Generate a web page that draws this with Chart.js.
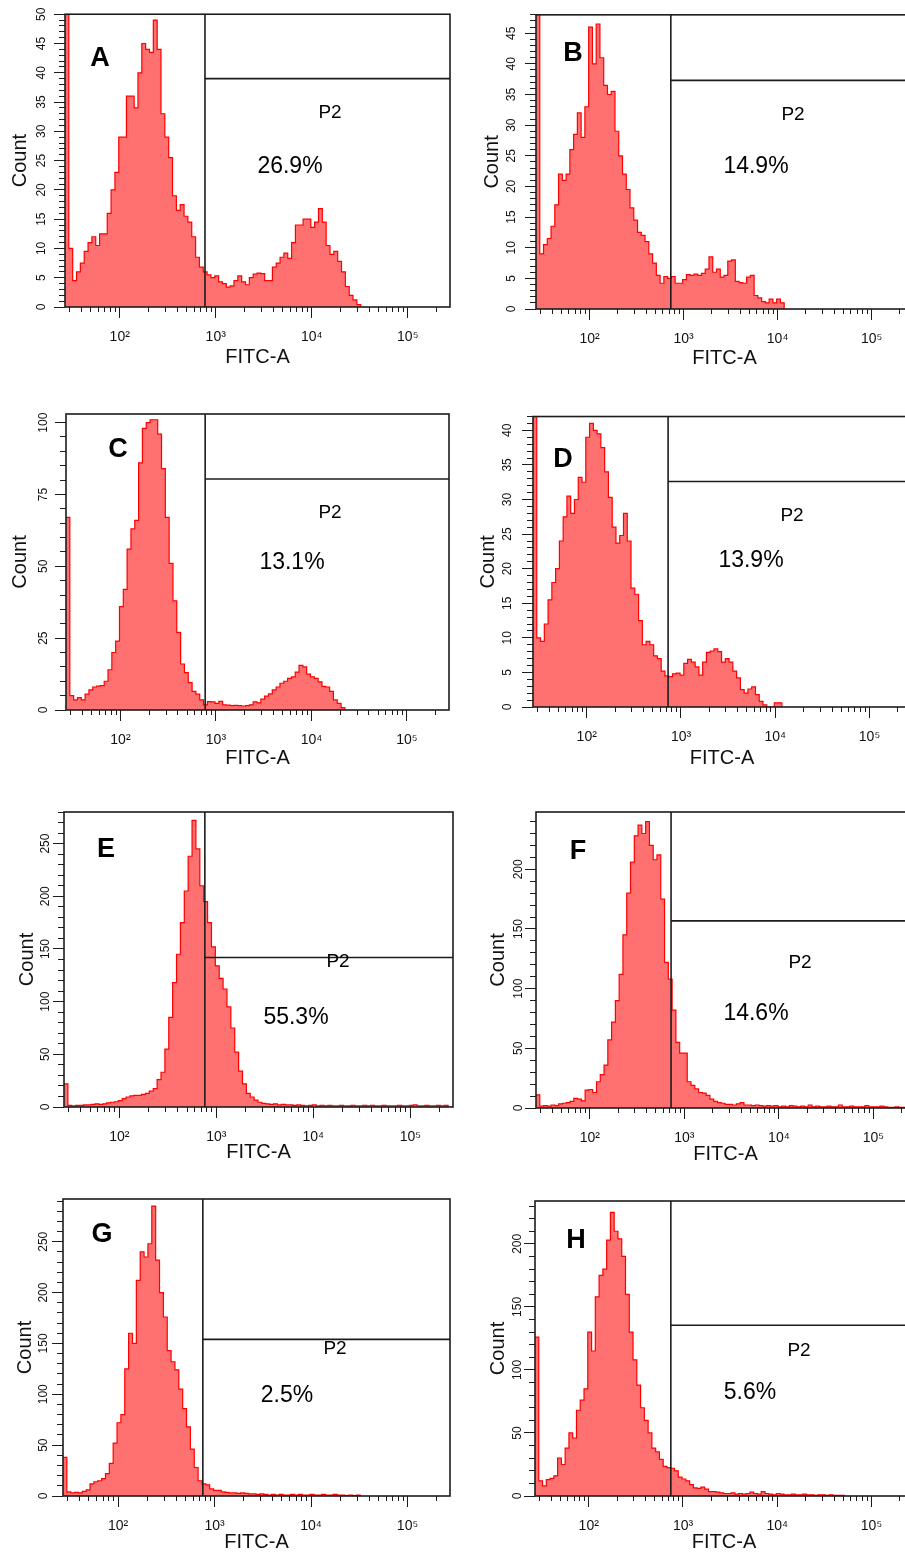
<!DOCTYPE html>
<html lang="en">
<head>
<meta charset="UTF-8" />
<title>FITC-A histograms A-H</title>
<script src="https://cdn.jsdelivr.net/npm/chart.js@4.4.1/dist/chart.umd.min.js"></script>
<style>
  html, body { margin: 0; padding: 0; background: #fff; width: 905px; height: 1552px; overflow: hidden; position: relative; }
  canvas { position: absolute; }
</style>
</head>
<body>
<script>
// ---- data ----
const panelLetters = ["A", "B", "C", "D", "E", "F", "G", "H"];
const p2Percent = ["26.9%", "14.9%", "13.1%", "13.9%", "55.3%", "14.6%", "2.5%", "5.6%"];

// gate P2: vertical edge (log10 FITC-A) and horizontal edge (count)
const gateX = [2.888, 2.864, 2.887, 2.863, 2.882, 2.859, 2.879, 2.871];
const gateY = [39, 37.3, 80.4, 32.6, 141.9, 156.8, 154, 135.4];

// y axis top and tick steps
const yMax = [50, 48, 103, 42, 280, 248, 292, 234];
const yMajor = [5, 5, 25, 5, 50, 50, 50, 50];
const yMinor = [1, 1, 5, 1, 10, 10, 10, 10];

// x axis, log10 of FITC-A
const X_MIN = 1.43, X_MAX = 5.44;
const xDecades = [2, 3, 4, 5];
const xDecadeLabels = ["10²", "10³", "10⁴", "10⁵"];

// histogram channels start at X_MIN, each 0.04 log units wide
const BIN_START = 1.43, BIN_WIDTH = 0.04;

const countsA = [60, 10, 4.5, 6, 7.5, 9.5, 11, 12, 10.5, 12.5,
  12.5, 16, 20, 23, 29, 29, 36, 36, 34, 40,
  45, 44, 43.5, 49, 44, 33, 29, 25.5, 19, 16.5,
  17.5, 15.5, 14.5, 12, 8.5, 6.8, 6, 5.5, 5, 5.3,
  4.3, 4, 3.4, 3.6, 4.5, 5.3, 4.3, 3.8, 5, 5.6,
  5.8, 5.7, 4.5, 4.5, 6.8, 7.5, 8.5, 9.2, 8.3, 11,
  14, 14, 15, 15, 13.6, 14.5, 16.8, 14.5, 10.5, 9,
  9.5, 7.8, 6, 3.5, 2, 1.2, 0.4, 0];
const countsB = [55, 9, 10.5, 11.5, 13.5, 17, 22, 21, 22, 26,
  28.5, 32, 28, 33, 46, 40, 46.5, 41, 36.5, 35,
  35.5, 29, 25, 22, 19.5, 16.5, 14.5, 12.5, 12, 11,
  9, 7.5, 5.5, 4.2, 5.3, 5, 5.3, 4.2, 4.2, 4.8,
  5.6, 5.5, 5.7, 5.5, 5.8, 6.5, 8.5, 6, 6.5, 5.2,
  5.5, 7.8, 8, 4.5, 4.3, 4.2, 5.2, 5.5, 2.2, 1.8,
  1.2, 1, 1.6, 1, 1.6, 1, 0];
const countsC = [67, 5, 3.5, 4.3, 3.5, 5.5, 7, 8, 8.3, 8.5,
  10, 14, 20, 24, 36, 42, 56, 63, 66, 86,
  98, 100, 101, 101, 96, 84, 67, 51, 38, 27,
  16, 13, 9.5, 6.5, 5.5, 3.5, 1.8, 2.9, 2.8, 2.3,
  3, 1.8, 1.7, 1.5, 1.6, 1.5, 1.4, 1.5, 1.8, 2.8,
  2.5, 3.8, 4.8, 5.6, 7, 8, 9.3, 10, 11, 11.5,
  13.2, 15.5, 15, 12.5, 11.5, 11, 9.8, 8.2, 8, 6.5,
  3.5, 2.3, 0.8, 0];
const countsD = [50, 10, 9.5, 12, 15.5, 18, 20, 24, 27.5, 30.5,
  28, 30, 33.2, 32.5, 39, 41, 40, 39.5, 37.5, 34,
  30.3, 26, 23.7, 24.8, 28, 24, 17.2, 16.3, 12.5, 9,
  9.5, 9, 7.4, 7, 5.2, 4.5, 4.4, 4.8, 4.9, 4.6,
  6.3, 6.9, 6.5, 5.8, 4.6, 6.5, 7.9, 8.1, 8.4, 8,
  6.5, 7, 6.5, 5.2, 4.2, 2.5, 2, 2.6, 2.9, 1.8,
  0.8, 0.3, 0, 0, 0.6, 0.6, 0];
const countsE = [22, 1.5, 1, 1.5, 1.5, 2, 2, 2.5, 3, 2.5,
  3, 4, 4.5, 5, 6, 8, 9.5, 10.5, 11, 11,
  12, 13, 15, 17.5, 26, 33, 55, 85, 118, 145,
  175, 205, 238, 272, 245, 210, 195, 175, 152, 134,
  122, 112, 95, 75, 52, 34, 22, 13, 9.5, 6.5,
  4.5, 3.5, 3, 2.5, 3, 2, 2.5, 2, 2, 1.5,
  2, 1.5, 1, 1.5, 2, 1, 1.5, 1, 1.5, 1,
  1, 1.5, 1, 1, 1.5, 1, 1, 1.5, 1, 1.5,
  1, 1, 1.5, 1, 1, 1, 1.5, 1, 1, 1.5,
  2, 1, 1, 1.5, 1, 1, 1.5, 1, 1.5, 0];
const countsF = [11, 1.5, 2, 1.5, 2.5, 2, 3.5, 4, 4.5, 5.5,
  8, 7.5, 6, 15, 15.5, 13, 22, 28, 36, 57,
  72, 90, 112, 145, 180, 206, 228, 237, 230, 240,
  220, 208, 212, 175, 122, 108, 82, 55, 46, 46,
  22, 19, 16, 13, 12.5, 10.5, 7.5, 5.5, 4.5, 4,
  3, 3, 2.5, 3.5, 4.5, 2.5, 2.5, 2, 2.5, 2,
  1.5, 2, 1.5, 2, 1, 1.5, 1, 2, 1.5, 1,
  1.5, 1, 2.5, 1, 1.5, 1, 1, 1.5, 1, 1,
  2.5, 1, 1, 1.5, 1, 1, 1, 2, 1, 1,
  1, 1.5, 1, 0.5, 0.5, 1, 0.5, 0.5, 0.5, 0];
const countsG = [38, 4, 3, 3.5, 3, 4.5, 6, 12, 14, 15,
  17, 22, 32, 52, 72, 80, 125, 160, 150, 212,
  240, 235, 248, 285, 232, 200, 176, 143, 132, 124,
  105, 86, 68, 46, 28, 15, 12, 11, 7, 5.5,
  5.5, 4, 3.5, 3, 3, 2.5, 3, 2.5, 2, 2,
  1.5, 2, 1.5, 1, 1.5, 1, 1.5, 1, 1, 1.5,
  1, 1.5, 1, 1, 1.5, 1, 1, 1.5, 1, 1,
  1.5, 1, 1, 0.5, 1, 0.5, 1, 0];
const countsH = [126, 12, 8, 13, 14, 16, 30, 25, 38, 50,
  46, 68, 76, 85, 130, 115, 158, 175, 180, 203,
  225, 210, 204, 190, 160, 130, 108, 88, 70, 60,
  50, 38, 35, 29, 23.5, 22.5, 22, 20, 15, 13.5,
  12, 9, 6.5, 6, 7, 5.5, 3.5, 3.5, 3, 2.5,
  2, 2, 2.5, 1.5, 2, 1.5, 2, 3, 2, 1.5,
  3.5, 2, 1.5, 1, 2, 1.5, 1, 1, 1.5, 1,
  1, 1.5, 1, 1, 0.5, 1, 1, 0.5, 1, 0.5,
  0.5, 0.5, 0];
const counts = [countsA, countsB, countsC, countsD, countsE, countsF, countsG, countsH];

// ---- page layout (pixels) ----
// l,t,r,b = plot box; countX / fitcY = axis title centres; yLab = tick label offset from axis
// letter/p2/pct = text centres relative to the plot box top-left
const panels = [
  { l: 65, t: 13, r: 450, b: 307, countX: 20, fitcY: 357, yLab: 23.7, letter: [35, 44], p2: [265, 99], pct: [225, 152] },
  { l: 536, t: 13, r: 913, b: 309, countX: 492, fitcY: 358, yLab: 24.3, letter: [37, 39], p2: [257, 100], pct: [220, 152] },
  { l: 66, t: 414, r: 449, b: 710, countX: 20, fitcY: 758, yLab: 22.4, letter: [52, 36], p2: [264, 99], pct: [226, 149] },
  { l: 533, t: 414, r: 911, b: 707, countX: 488, fitcY: 758, yLab: 25, letter: [30, 43], p2: [259, 99], pct: [218, 144] },
  { l: 64, t: 812, r: 453, b: 1107, countX: 27, fitcY: 1152, yLab: 18.6, letter: [42, 38], p2: [274, 150], pct: [232, 206] },
  { l: 536, t: 812, r: 915, b: 1108, countX: 498, fitcY: 1154, yLab: 17.7, letter: [42, 40], p2: [264, 151], pct: [220, 202] },
  { l: 63, t: 1199, r: 450, b: 1496, countX: 25, fitcY: 1542, yLab: 19.4, letter: [39, 36], p2: [272, 150], pct: [224, 197] },
  { l: 535, t: 1201, r: 913, b: 1496, countX: 498, fitcY: 1542, yLab: 17, letter: [41, 40], p2: [264, 150], pct: [215, 192] },
];

const FONT = '"Liberation Sans", Arial, Helvetica, sans-serif';
const AXW = 60, AXH = 62, PADT = 12, PADR = 2;
const Y_MAJOR_LEN = 11, Y_MINOR_LEN = 6, X_MAJOR_LEN = 11, X_MINOR_LEN = 5;
const TITLE_SIZE = 20, Y_TICK_SIZE = 12, X_TICK_SIZE = 14;
const INK = "#1c1c1c";

Chart.defaults.font.family = FONT;

function stepTicks(step, max) {
  const out = [];
  for (let v = 0; v <= max + 1e-9; v += step) out.push({ value: v });
  return out;
}

const xMinorTicks = [];
for (let d = 1; d <= 5; d++) {
  for (let k = 1; k <= 9; k++) {
    const v = d + Math.log10(k);
    if (v >= X_MIN && v <= X_MAX) xMinorTicks.push({ value: v });
  }
}

// plot frame + annotations
const panelText = {
  id: "panelText",
  afterDatasetsDraw(chart) {
    const { ctx, chartArea: a } = chart;
    ctx.save();
    ctx.strokeStyle = INK;
    ctx.lineWidth = 1.6;
    ctx.strokeRect(a.left, a.top, a.right - a.left, a.bottom - a.top);
    ctx.restore();
  },
  afterDraw(chart, args, opts) {
    const { ctx, chartArea: a } = chart;
    ctx.save();
    ctx.fillStyle = "#000";
    ctx.textAlign = "center";
    ctx.textBaseline = "middle";
    ctx.font = "bold 27px " + FONT;
    ctx.fillText(opts.letter, a.left + opts.letterAt[0], a.top + opts.letterAt[1]);
    ctx.font = "19px " + FONT;
    ctx.fillText("P2", a.left + opts.p2At[0], a.top + opts.p2At[1]);
    ctx.font = "23px " + FONT;
    ctx.fillText(opts.pct, a.left + opts.pctAt[0], a.top + opts.pctAt[1]);
    ctx.restore();
  },
};

const measure = document.createElement("canvas").getContext("2d");

panels.forEach((bx, i) => {
  const w = AXW + (bx.r - bx.l) + PADR;
  const h = PADT + (bx.b - bx.t) + AXH;
  const left = bx.l - AXW, top = bx.t - PADT;
  const cv = document.createElement("canvas");
  cv.width = w;
  cv.height = h;
  cv.style.left = left + "px";
  cv.style.top = top + "px";
  cv.style.width = w + "px";
  cv.style.height = h + "px";
  document.body.appendChild(cv);

  const yTicks = stepTicks(yMajor[i], yMax[i]);
  measure.font = Y_TICK_SIZE + "px " + FONT;
  const widest = Math.max(...yTicks.map((t) => measure.measureText(String(t.value)).width));
  const yPad = bx.yLab - Y_MAJOR_LEN - widest / 2;
  const countPad = bx.countX - left - (TITLE_SIZE * 1.2) / 2;
  const fitcPad = top + h - bx.fitcY - (TITLE_SIZE * 1.2) / 2;

  new Chart(cv, {
    type: "line",
    data: {
      datasets: [
        {
          data: counts[i].map((c, k) => ({ x: BIN_START + k * BIN_WIDTH, y: c })),
          stepped: "before",
          borderColor: "rgb(255,0,0)",
          borderWidth: 1.2,
          backgroundColor: "rgb(255,112,112)",
          fill: "origin",
          pointRadius: 0,
          order: 2,
        },
        {
          data: [{ x: gateX[i], y: 0 }, { x: gateX[i], y: yMax[i] }],
          borderColor: INK,
          borderWidth: 1.6,
          pointRadius: 0,
          fill: false,
          order: 1,
        },
        {
          data: [{ x: gateX[i], y: gateY[i] }, { x: X_MAX, y: gateY[i] }],
          borderColor: INK,
          borderWidth: 1.6,
          pointRadius: 0,
          fill: false,
          order: 1,
        },
      ],
    },
    options: {
      responsive: false,
      animation: false,
      devicePixelRatio: 1,
      layout: { padding: { top: PADT, right: PADR, left: 0, bottom: 0 } },
      plugins: {
        legend: { display: false },
        tooltip: { enabled: false },
        panelText: { letter: panelLetters[i], pct: p2Percent[i], letterAt: bx.letter, p2At: bx.p2, pctAt: bx.pct },
      },
      scales: {
        x: {
          type: "linear", position: "bottom", weight: 10, min: X_MIN, max: X_MAX, bounds: "data",
          afterBuildTicks: (s) => { s.ticks = xDecades.map((v) => ({ value: v })); },
          afterFit: (s) => { s.height = AXH; },
          grid: { drawOnChartArea: false, drawTicks: true, tickLength: X_MAJOR_LEN, tickColor: INK, color: INK },
          border: { display: false },
          ticks: {
            autoSkip: false, maxRotation: 0, minRotation: 0, padding: 11, color: "#111",
            font: { size: X_TICK_SIZE },
            callback: (v, k) => xDecadeLabels[k],
          },
          title: { display: true, text: "FITC-A", color: "#111", font: { size: TITLE_SIZE }, padding: { top: 0, bottom: fitcPad } },
        },
        xMinor: {
          type: "linear", position: "bottom", weight: 0, min: X_MIN, max: X_MAX, bounds: "data",
          afterBuildTicks: (s) => { s.ticks = xMinorTicks.slice(); },
          afterFit: (s) => { s.height = 0; },
          grid: { drawOnChartArea: false, drawTicks: true, tickLength: X_MINOR_LEN, tickColor: INK, color: INK },
          border: { display: false },
          ticks: { display: false },
        },
        y: {
          type: "linear", position: "left", weight: 10, min: 0, max: yMax[i], bounds: "data",
          afterBuildTicks: (s) => { s.ticks = stepTicks(yMajor[i], yMax[i]); },
          afterFit: (s) => { s.width = AXW; },
          grid: { drawOnChartArea: false, drawTicks: true, tickLength: Y_MAJOR_LEN, tickColor: INK, color: INK },
          border: { display: false },
          ticks: {
            autoSkip: false, minRotation: 90, maxRotation: 90, crossAlign: "center", padding: yPad,
            color: "#111", font: { size: Y_TICK_SIZE },
            callback: (v) => String(v),
          },
          title: { display: true, text: "Count", color: "#111", font: { size: TITLE_SIZE }, padding: { top: countPad, bottom: 0 } },
        },
        yMinor: {
          type: "linear", position: "left", weight: 0, min: 0, max: yMax[i], bounds: "data",
          afterBuildTicks: (s) => { s.ticks = stepTicks(yMinor[i], yMax[i]); },
          afterFit: (s) => { s.width = 0; },
          grid: { drawOnChartArea: false, drawTicks: true, tickLength: Y_MINOR_LEN, tickColor: INK, color: INK },
          border: { display: false },
          ticks: { display: false },
        },
      },
    },
    plugins: [panelText],
  });
});
</script>
</body>
</html>
